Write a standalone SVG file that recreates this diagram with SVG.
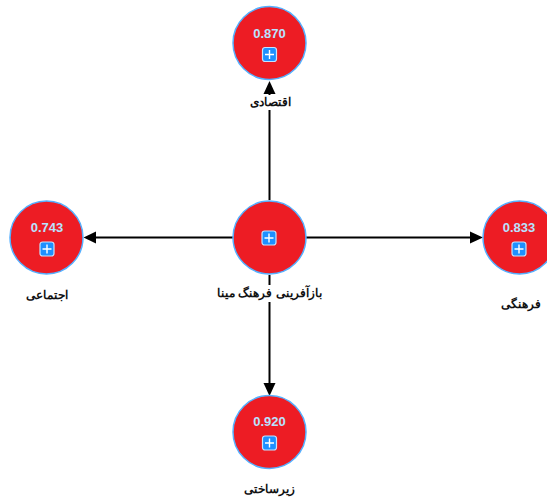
<svg xmlns="http://www.w3.org/2000/svg" width="547" height="500" viewBox="0 0 547 500">
<style>
.c{stroke:#000;stroke-width:2;fill:none}
.h{fill:#000}
.n{fill:#ed1c24;stroke:#55b0ff;stroke-width:1.5}
.v{font:bold 13px "Liberation Sans","DejaVu Sans",sans-serif;fill:#b8e2ff;text-anchor:middle}
.l{font:bold 11.500px "Liberation Sans","Noto Sans",sans-serif;fill:#111;text-anchor:middle;direction:rtl}
.bg{fill:#fff}
.b{fill:#1e90ff;stroke:#c4e4ff;stroke-width:1.200}
.p{stroke:#fff;stroke-width:1.400;fill:none}
</style>
<defs>
<g id="plus"><rect class="b" x="-7" y="-7" width="14" height="14" rx="2.500"/><path class="p" d="M-4.500 0H4.500M0-4.500V4.500"/></g>
</defs>
<rect width="547" height="500" fill="#fff"/>
<g id="connectors">
<path class="c" d="M269.500 200V93"/><path class="h" d="M263.500 94L269.500 81L275.500 94Z"/>
<path class="c" d="M233 237.500H94"/><path class="h" d="M96 231.500L83.500 237.500L96 243.500Z"/>
<path class="c" d="M306 237.500H472"/><path class="h" d="M470 231.500L483 237.500L470 243.500Z"/>
<path class="c" d="M269.500 275V385"/><path class="h" d="M263.500 383L269.500 396L275.500 383Z"/>
</g>
<g id="node-top"><circle class="n" cx="269.500" cy="43" r="36.500"/><text class="v" x="269.500" y="37.500">0.870</text><use href="#plus" x="269.500" y="54.500"/><rect class="bg" x="248" y="95" width="44" height="15"/><text class="l" x="270" y="106">اقتصادی</text></g>
<g id="node-center"><circle class="n" cx="269.500" cy="237.500" r="36.500"/><use href="#plus" x="269" y="238"/><rect class="bg" x="218" y="285" width="103" height="17"/><text class="l" x="269.500" y="297">بازآفرینی فرهنگ مینا</text></g>
<g id="node-left"><circle class="n" cx="46.500" cy="237.500" r="36.500"/><text class="v" x="47" y="231.500">0.743</text><use href="#plus" x="47" y="249"/><text class="l" x="47" y="299">اجتماعی</text></g>
<g id="node-right"><circle class="n" cx="519.500" cy="237.500" r="36.500"/><text class="v" x="519" y="231.500">0.833</text><use href="#plus" x="519" y="249"/><text class="l" x="520.500" y="308">فرهنگی</text></g>
<g id="node-bottom"><circle class="n" cx="269.500" cy="432" r="36.500"/><text class="v" x="269.500" y="425.500">0.920</text><use href="#plus" x="269.500" y="443"/><text class="l" x="269.500" y="493">زیرساختی</text></g>
</svg>
